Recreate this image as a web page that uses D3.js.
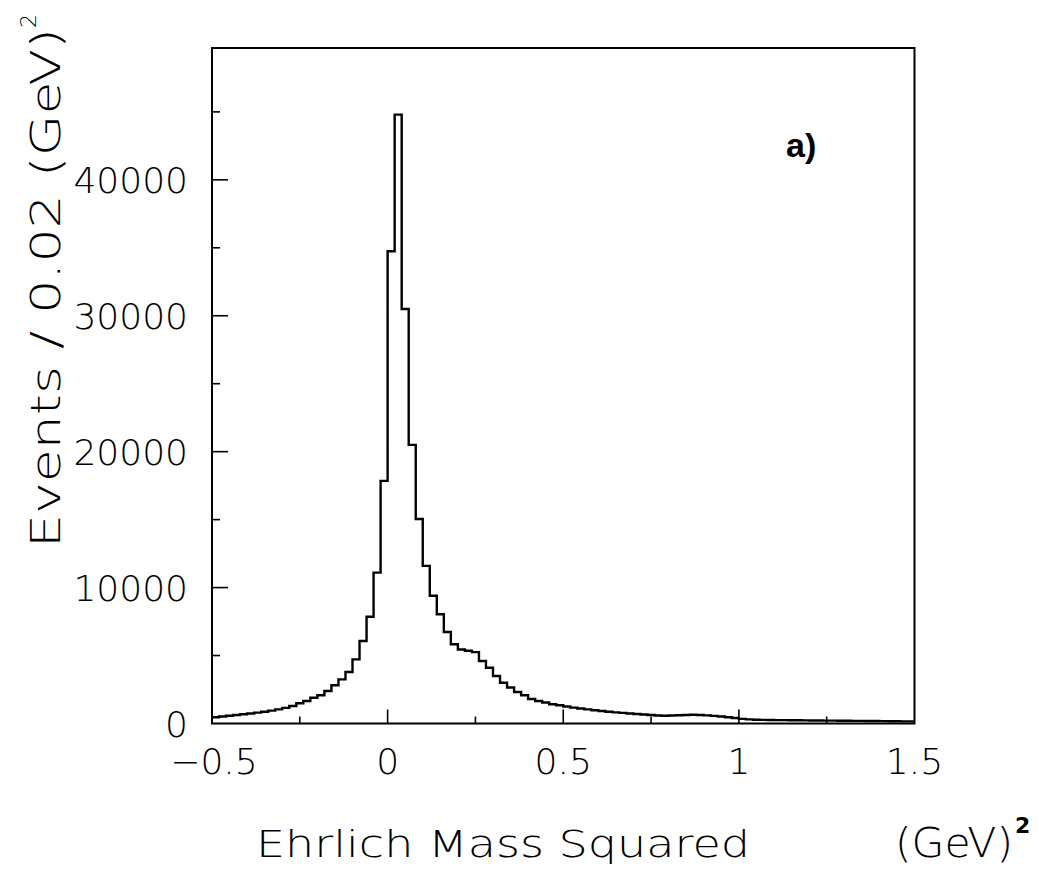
<!DOCTYPE html>
<html>
<head>
	<meta charset="utf-8">
	<title>Ehrlich Mass Squared</title>
	<script type="text/javascript" src="https://cdn.jsdelivr.net/npm/d3@7"></script>
	<style>
		body {
			margin: 0;
			background: #fff;
		}
		svg text {
			font-family: "DejaVu Sans", sans-serif;
			font-weight: 200;
			fill: #000;
		}
	</style>
</head>

<body>

	<div id="chart"></div>

	<script>

	// customization

	// lower edges of the 0.02 wide bins run from -0.5 to 1.48
	const binStart = -0.5;
	const binWidth = 0.02;

	const counts = [
		460, 520, 570, 620, 680, 740, 800, 870, 950, 1040,
		1150, 1290, 1485, 1655, 1900, 2075, 2390, 2810, 3250, 3790,
		4720, 6070, 7850, 11100, 17850, 34750, 44800, 30500, 20500, 15050,
		11600, 9400, 8035, 6735, 5830, 5450, 5350, 5250, 4600, 4100,
		3500, 3000, 2650, 2320, 2080, 1800, 1650, 1540, 1420, 1340,
		1250, 1170, 1100, 1040, 980, 920, 870, 820, 780, 740,
		700, 660, 620, 590, 570, 590, 610, 630, 640, 630,
		600, 560, 510, 460, 400, 340, 300, 280, 270, 260,
		250, 245, 240, 235, 230, 225, 220, 215, 210, 205,
		200, 195, 190, 185, 180, 175, 170, 165, 160, 155
	];

	const xTicks      = [-0.5, 0, 0.5, 1, 1.5];
	const xMinorTicks = [-0.25, 0.25, 0.75, 1.25];
	const yTicks      = [0, 10000, 20000, 30000, 40000];
	const yMinorTicks = [5000, 15000, 25000, 35000, 45000];

	const xLabel   = "Ehrlich Mass Squared";
	const xUnit    = "(GeV)";
	const yLabel   = "Events / 0.02  (GeV)";
	const panelTag = "a)";

	const width  = 1039;
	const height = 869;

	// customization

	function histogram(container, {
		marginLeft   = 212,
		marginRight  = 124.5,
		marginTop    = 48,
		marginBottom = 145.5,
		xDomain      = [-0.5, 1.5],
		yDomain      = [0, 49700],
		strokeWidth  = 2.4,
	} = {}) {

		const x = d3.scaleLinear(xDomain, [marginLeft, width - marginRight]);
		const y = d3.scaleLinear(yDomain, [height - marginBottom, marginTop]);

		const svg = d3.select(container)
			.append("svg")
			.attr("width", width)
			.attr("height", height)
			.attr("viewBox", [0, 0, width, height]);

		// step outline of the bins
		const pts = counts.map((c, i) => [binStart + i * binWidth, c]);
		pts.push([binStart + counts.length * binWidth, counts[counts.length - 1]]);

		const line = d3.line()
			.curve(d3.curveStepAfter)
			.x(d => x(d[0]))
			.y(d => y(d[1]));

		svg.append("path")
			.attr("fill", "none")
			.attr("stroke", "#000")
			.attr("stroke-width", strokeWidth)
			.attr("stroke-linejoin", "miter")
			.attr("d", line(pts));

		// frame
		svg.append("rect")
			.attr("x", x(xDomain[0]))
			.attr("y", y(yDomain[1]))
			.attr("width", x(xDomain[1]) - x(xDomain[0]))
			.attr("height", y(yDomain[0]) - y(yDomain[1]))
			.attr("fill", "none")
			.attr("stroke", "#000")
			.attr("stroke-width", 2);

		// inward ticks
		const bottom = y(yDomain[0]);
		const left = x(xDomain[0]);

		svg.append("g")
			.attr("stroke", "#000")
			.attr("stroke-width", 1.6)
			.call(g => g.selectAll(".xt").data(xTicks.slice(1, -1)).join("line")
				.attr("x1", d => x(d)).attr("x2", d => x(d))
				.attr("y1", bottom).attr("y2", bottom - 14))
			.call(g => g.selectAll(".xm").data(xMinorTicks).join("line")
				.attr("x1", d => x(d)).attr("x2", d => x(d))
				.attr("y1", bottom).attr("y2", bottom - 7))
			.call(g => g.selectAll(".yt").data(yTicks.slice(1)).join("line")
				.attr("x1", left).attr("x2", left + 16)
				.attr("y1", d => y(d)).attr("y2", d => y(d)))
			.call(g => g.selectAll(".ym").data(yMinorTicks).join("line")
				.attr("x1", left).attr("x2", left + 8)
				.attr("y1", d => y(d)).attr("y2", d => y(d)));

		// tick labels
		svg.append("g")
			.style("font-size", "36px")
			.attr("text-anchor", "middle")
			.selectAll("text")
			.data(xTicks)
			.join("text")
			.attr("x", d => x(d) + (d < 0 ? 2 : 0))
			.attr("y", bottom + 50)
			.text(d => d < 0 ? "\u22120.5" : String(d));

		svg.append("g")
			.style("font-size", "36px")
			.attr("text-anchor", "end")
			.selectAll("text")
			.data(yTicks)
			.join("text")
			.attr("x", left - 24)
			.attr("y", d => y(d) + 13)
			.text(d => d);

		// axis titles
		svg.append("text")
			.attr("x", 256)
			.attr("y", 857)
			.style("font-size", "38px")
			.attr("textLength", 494)
			.attr("lengthAdjust", "spacingAndGlyphs")
			.text(xLabel);

		const unit = svg.append("text")
			.attr("x", 895)
			.attr("y", 857)
			.style("font-size", "40px");
		unit.append("tspan")
			.attr("textLength", 118)
			.attr("lengthAdjust", "spacingAndGlyphs")
			.text(xUnit);
		unit.append("tspan")
			.attr("dx", 2)
			.attr("dy", -24)
			.style("font-size", "22px")
			.style("font-weight", "bold")
			.text("2");

		const yt = svg.append("text")
			.attr("transform", "translate(60,548) rotate(-90)")
			.style("font-size", "40px");
		yt.append("tspan")
			.attr("textLength", 520)
			.attr("lengthAdjust", "spacingAndGlyphs")
			.text(yLabel);
		yt.append("tspan")
			.attr("dy", -24)
			.style("font-size", "22px")
			.text("2");

		svg.append("text")
			.attr("x", 786)
			.attr("y", 157)
			.style("font-size", "34px")
			.style("font-weight", "bold")
			.style("font-family", "'Liberation Sans', sans-serif")
			.text(panelTag);

		return svg.node();
	}

	histogram("#chart");

	</script>

</body>

</html>
